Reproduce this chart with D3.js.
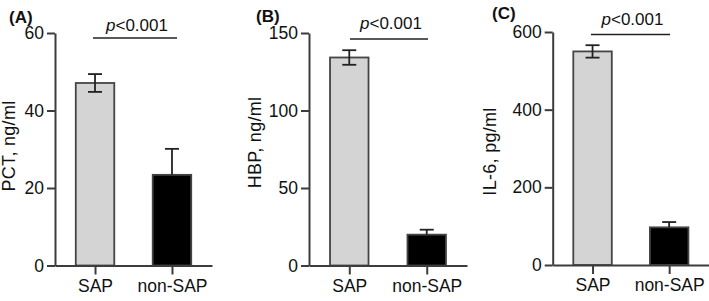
<!DOCTYPE html>
<html>
<head>
<meta charset="utf-8">
<script src="https://cdn.jsdelivr.net/npm/d3@7"></script>
<style>
  body { margin: 0; background: #fff; }
  svg { display: block; font-family: "Liberation Sans", Arial, sans-serif; }
</style>
</head>
<body>
<div id="chart"></div>
<script>
// Data
const categories = ["SAP", "non-SAP"];

const pctMean = [47.1, 23.4];
const pctErr = [2.3, 6.7];
const pctTicks = [0, 20, 40, 60];

const hbpMean = [134.2, 19.9];
const hbpErr = [4.7, 3.2];
const hbpTicks = [0, 50, 100, 150];

const il6Mean = [550, 97];
const il6Err = [16, 13.6];
const il6Ticks = [0, 200, 400, 600];

const pText = "p<0.001";

const width = 709, height = 301;
const fills = ["#d4d4d4", "#000000"];
const axisColor = "#3c3c3c";

const svg = d3.select("#chart").append("svg")
    .attr("width", width)
    .attr("height", height);

// panel layout (positions only)
const panels = [
    { tag: "(A)", title: "PCT, ng/ml", mean: pctMean, err: pctErr, ticks: pctTicks,
      x0: 55, x1: 212, yTop: 33, yBot: 265.5, tagX: 9, tagY: 23,
      labX: 15, labY: 146, pY: 31, lineY: 38, lineX: [93, 177] },
    { tag: "(B)", title: "HBP, ng/ml", mean: hbpMean, err: hbpErr, ticks: hbpTicks,
      x0: 309, x1: 467, yTop: 33, yBot: 265.5, tagX: 256, tagY: 22,
      labX: 261, labY: 142.5, pY: 29, lineY: 39, lineX: [350, 428] },
    { tag: "(C)", title: "IL-6, pg/ml", mean: il6Mean, err: il6Err, ticks: il6Ticks,
      x0: 552.7, x1: 709, yTop: 32, yBot: 265, tagX: 492, tagY: 19,
      labX: 496, labY: 151.5, pY: 24.5, lineY: 34.5, lineX: [591, 670] }
];

const barWidth = 38.5;
const capWidth = 14;

panels.forEach(p => {
    const g = svg.append("g");

    const y = d3.scaleLinear()
        .domain([0, d3.max(p.ticks)])
        .range([p.yBot, p.yTop]);

    const x = d3.scalePoint()
        .domain(categories)
        .range([p.x0, p.x1])
        .padding(0.52);

    // bars
    g.selectAll("rect.bar")
        .data(categories)
        .enter().append("rect")
        .attr("class", "bar")
        .attr("x", d => x(d) - barWidth / 2)
        .attr("y", (d, i) => y(p.mean[i]))
        .attr("width", barWidth)
        .attr("height", (d, i) => y(0) - y(p.mean[i]))
        .attr("fill", (d, i) => fills[i])
        .attr("stroke", "#454545")
        .attr("stroke-width", 1.8);

    // error bars (only the upper half shows on the black bar)
    categories.forEach((c, i) => {
        const cx = x(c);
        const top = y(p.mean[i] + p.err[i]);
        const bot = i === 0 ? y(p.mean[i] - p.err[i]) : y(p.mean[i]);
        g.append("line")
            .attr("x1", cx).attr("x2", cx)
            .attr("y1", top).attr("y2", bot)
            .attr("stroke", "#222").attr("stroke-width", 1.8);
        g.append("line")
            .attr("x1", cx - capWidth / 2).attr("x2", cx + capWidth / 2)
            .attr("y1", top).attr("y2", top)
            .attr("stroke", "#222").attr("stroke-width", 1.8);
        if (i === 0) {
            g.append("line")
                .attr("x1", cx - capWidth / 2).attr("x2", cx + capWidth / 2)
                .attr("y1", bot).attr("y2", bot)
                .attr("stroke", "#222").attr("stroke-width", 1.8);
        }
    });

    // y axis
    const yAxis = g.append("g")
        .attr("transform", `translate(${p.x0},0)`)
        .call(d3.axisLeft(y).tickValues(p.ticks).tickSize(8).tickSizeOuter(0).tickPadding(3));

    // x axis
    const xAxis = g.append("g")
        .attr("transform", `translate(0,${p.yBot})`)
        .call(d3.axisBottom(x).tickSize(9).tickSizeOuter(0).tickPadding(5));

    [yAxis, xAxis].forEach(a => {
        a.selectAll("path, line")
            .attr("stroke", axisColor)
            .attr("stroke-width", 2);
        a.selectAll("text")
            .attr("fill", "#111")
            .style("font-family", "'Liberation Sans', Arial, sans-serif")
            .style("font-size", "17.5px");
    });

    // y axis title
    g.append("text")
        .attr("transform", `translate(${p.labX},${p.labY}) rotate(-90)`)
        .attr("text-anchor", "middle")
        .style("font-size", "18px")
        .style("letter-spacing", "0.3px")
        .attr("fill", "#111")
        .text(p.title);

    // panel tag
    g.append("text")
        .attr("x", p.tagX)
        .attr("y", p.tagY)
        .style("font-size", "17px")
        .style("font-weight", "bold")
        .attr("fill", "#111")
        .text(p.tag);

    // significance line and p value
    g.append("line")
        .attr("x1", p.lineX[0]).attr("x2", p.lineX[1])
        .attr("y1", p.lineY).attr("y2", p.lineY)
        .attr("stroke", "#222").attr("stroke-width", 1.5);

    const pt = g.append("text")
        .attr("x", (p.lineX[0] + p.lineX[1]) / 2 + 2)
        .attr("y", p.pY)
        .attr("text-anchor", "middle")
        .style("font-size", "17px")
        .attr("fill", "#111");
    pt.append("tspan").style("font-style", "italic").text(pText.slice(0, 1));
    pt.append("tspan").text(pText.slice(1));
});
</script>
</body>
</html>
